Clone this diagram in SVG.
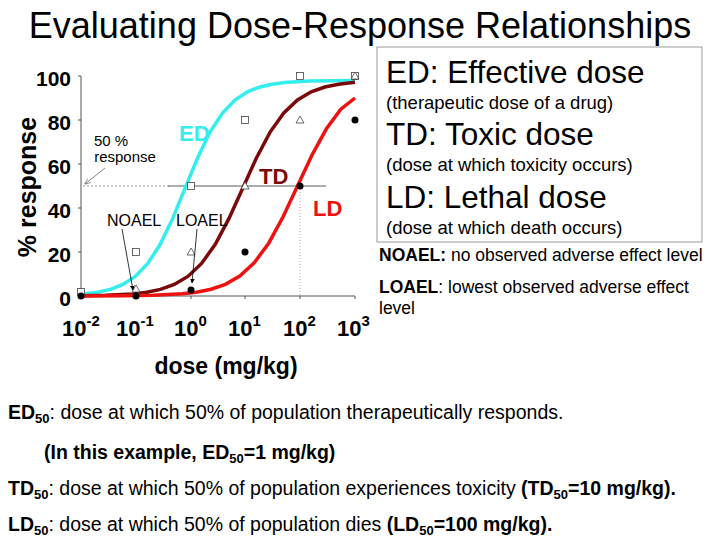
<svg xmlns="http://www.w3.org/2000/svg" width="720" height="540" viewBox="0 0 720 540">
<style>
text{font-family:"Liberation Sans",Arial,sans-serif;fill:#000}
.b{font-weight:bold}
.tick{font-size:21px;font-weight:bold;text-anchor:end}
.xl{font-size:22px;font-weight:bold}
.curve{fill:none;stroke-width:3.5}
.sq{fill:#fff;stroke:#444;stroke-width:0.8}
.bt{font-size:19.5px}
</style>
<defs>
<marker id="ar" viewBox="0 0 10 10" refX="9" refY="5" markerWidth="6" markerHeight="6" orient="auto"><path d="M0,0 L10,5 L0,10 z" fill="#000"/></marker>
<marker id="ao" viewBox="0 0 10 10" refX="9" refY="5" markerWidth="8" markerHeight="8" orient="auto"><path d="M0,1 L10,5 L0,9" fill="none" stroke="#666"/></marker>
</defs>
<rect width="720" height="540" fill="#fff"/>
<text x="360" y="38" font-size="36" text-anchor="middle">Evaluating Dose-Response Relationships</text>
<g id="axes" stroke="#555" stroke-width="1">
<line x1="81" y1="76" x2="81" y2="296"/>
<line x1="81" y1="296" x2="355" y2="296"/>
<path d="M78,76H81M78,120H81M78,164H81M78,208H81M78,252H81M136,296V299M191,296V299M245,296V299M300,296V299M355,296V299"/>
</g>
<g id="ref-lines">
<line x1="83" y1="186" x2="170" y2="186" stroke="#999" stroke-dasharray="2,2"/>
<line x1="168" y1="186" x2="326" y2="186" stroke="#333" stroke-width="0.8"/>
<line x1="300" y1="186" x2="300" y2="296" stroke="#aaa" stroke-dasharray="1,2"/>
</g>
<g id="yticks">
<text class="tick" x="71" y="86">100</text>
<text class="tick" x="71" y="130">80</text>
<text class="tick" x="71" y="174">60</text>
<text class="tick" x="71" y="218">40</text>
<text class="tick" x="71" y="262">20</text>
<text class="tick" x="71" y="306">0</text>
</g>
<g id="xticks">
<text x="62" y="336" class="xl">10<tspan font-size="15" dy="-10">-2</tspan></text>
<text x="116" y="336" class="xl">10<tspan font-size="15" dy="-10">-1</tspan></text>
<text x="174" y="336" class="xl">10<tspan font-size="15" dy="-10">0</tspan></text>
<text x="228" y="336" class="xl">10<tspan font-size="15" dy="-10">1</tspan></text>
<text x="283" y="336" class="xl">10<tspan font-size="15" dy="-10">2</tspan></text>
<text x="337" y="336" class="xl">10<tspan font-size="15" dy="-10">3</tspan></text>
</g>
<text class="b" font-size="25" transform="translate(36,187) rotate(-90)" text-anchor="middle">% response</text>
<text class="b" x="226" y="374" font-size="23" text-anchor="middle">dose (mg/kg)</text>
<g id="curves">
<polyline class="curve" stroke="#33eeee" points="81,294.3 97.9,292.2 110.4,289.4 122.9,284.5 135.3,276.4 147.8,263.4 160.2,244.3 172.7,218.4 185.1,188.2 197.6,158 210,132.1 222.5,113 235,100 247.4,91.8 259.8,87 272.2,84.2 284.7,82.5 309.6,81.1 355,80.4"/>
<polyline class="curve" stroke="#7a0a0a" points="81,295.8 105.7,295.3 133.1,293.9 146.8,292.2 160.5,289.4 174.2,284.5 187.9,276.4 201.6,263.4 215.3,244.3 229,218.4 242.7,188.2 256.4,158 270.1,132.1 283.8,113 297.5,100 311.2,91.8 324.9,87 338.6,84.2 355,82.3"/>
<polyline class="curve" stroke="#ee1111" points="81,296 124.4,295.8 153.2,295.3 182.1,293.8 196.5,292.2 211,289.2 225.4,284.3 239.8,276 254.2,262.8 268.7,243.2 283.1,216.8 297.5,186 311.9,155.2 326.4,128.8 340.8,109.2 355,98"/>
</g>
<g id="markers">
<g class="sq">
<rect x="77.5" y="288.5" width="7" height="7"/><rect x="132.5" y="248.5" width="7" height="7"/><rect x="187.5" y="182.5" width="7" height="7"/><rect x="241.5" y="116.5" width="7" height="7"/><rect x="296.5" y="72.5" width="7" height="7"/><rect x="351.5" y="72.5" width="7" height="7"/>
<path d="M136,285 l4,7 h-8z M191,248 l4,7 h-8z M245,182 l4,7 h-8z M300,116 l4,7 h-8z M355,72 l4,7 h-8z"/>
</g>
<g fill="#000">
<circle cx="81" cy="296" r="3.5"/><circle cx="136" cy="296" r="3.5"/><circle cx="191" cy="290" r="3.5"/><circle cx="245" cy="252" r="3.5"/><circle cx="300" cy="186" r="3.5"/><circle cx="355" cy="120" r="3.5"/>
</g>
</g>
<g id="labels">
<text class="b" x="179" y="141" font-size="22" style="fill:#33eeee">ED</text>
<text class="b" x="259" y="184" font-size="22" style="fill:#7a0a0a">TD</text>
<text class="b" x="313" y="216" font-size="22" style="fill:#ee1111">LD</text>
<text x="111" y="146" font-size="15" text-anchor="middle">50 %</text>
<text x="125" y="162" font-size="15" text-anchor="middle">response</text>
<text x="107" y="226" font-size="16">NOAEL</text>
<text x="176" y="226" font-size="16">LOAEL</text>
</g>
<g id="connectors">
<line x1="105" y1="168" x2="85" y2="184" stroke="#666" stroke-width="0.8" marker-end="url(#ao)"/>
<line x1="122" y1="229" x2="133" y2="290" stroke="#000" stroke-width="0.8" marker-end="url(#ar)"/>
<line x1="197" y1="229" x2="192" y2="283" stroke="#000" stroke-width="0.8" marker-end="url(#ar)"/>
</g>
<g id="legend">
<rect x="377" y="47" width="325" height="195" fill="#fff" stroke="#999" stroke-width="1"/>
<text x="386" y="83" font-size="31.5">ED: Effective dose</text>
<text x="386" y="109" font-size="18.5">(therapeutic dose of a drug)</text>
<text x="386" y="145" font-size="31.5">TD: Toxic dose</text>
<text x="386" y="171" font-size="18.5">(dose at which toxicity occurs)</text>
<text x="386" y="208" font-size="31.5">LD: Lethal dose</text>
<text x="386" y="234" font-size="18.5">(dose at which death occurs)</text>
</g>
<text x="379" y="261" font-size="17.5"><tspan class="b">NOAEL:</tspan> no observed adverse effect level</text>
<text x="379" y="293" font-size="17.5"><tspan class="b">LOAEL</tspan>: lowest observed adverse effect</text>
<text x="379" y="314" font-size="17.5">level</text>
<g id="notes">
<text x="8" y="419" class="bt"><tspan class="b">ED<tspan font-size="13" dy="4">50</tspan></tspan><tspan dy="-4">: dose at which 50% of population therapeutically responds.</tspan></text>
<text x="44" y="459" class="bt b">(In this example, ED<tspan font-size="13" dy="4">50</tspan><tspan dy="-4">=1 mg/kg)</tspan></text>
<text x="8" y="495" class="bt"><tspan class="b">TD<tspan font-size="13" dy="4">50</tspan></tspan><tspan dy="-4">: dose at which 50% of population experiences toxicity </tspan><tspan class="b">(TD<tspan font-size="13" dy="4">50</tspan><tspan dy="-4">=10 mg/kg).</tspan></tspan></text>
<text x="8" y="531" class="bt"><tspan class="b">LD<tspan font-size="13" dy="4">50</tspan></tspan><tspan dy="-4">: dose at which 50% of population dies </tspan><tspan class="b">(LD<tspan font-size="13" dy="4">50</tspan><tspan dy="-4">=100 mg/kg).</tspan></tspan></text>
</g>
</svg>
